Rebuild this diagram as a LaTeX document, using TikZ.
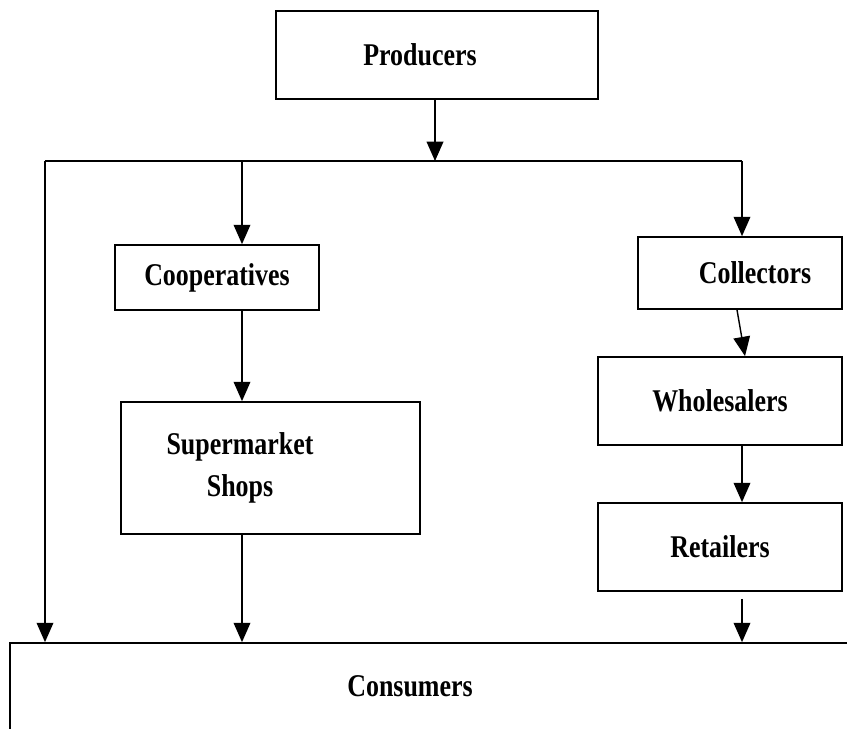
\documentclass[tikz,border=0pt]{standalone}
\usepackage{fontspec}
\setmainfont[FakeStretch=0.82]{Liberation Serif}
\usetikzlibrary{arrows.meta}

\begin{document}
\begin{tikzpicture}[x=0.02cm, y=-0.02cm, every node/.style={font=\bfseries\fontsize{18}{24}\selectfont}]
    \tikzstyle{box}=[draw, line width=1pt, inner sep=0pt, align=center]
    \tikzstyle{flow}=[-{Triangle[width=9.5pt,length=11pt]}, line width=0.8pt]

    \useasboundingbox (0,0) rectangle (847,728);

    \node[box, minimum width=6.44cm, minimum height=1.76cm, label={[xshift=-0.34cm]center:Producers}] (producers) at (437,55) {};
    \node[box, minimum width=4.08cm, minimum height=1.3cm] (cooperatives) at (217,277.5) {Cooperatives};
    \node[box, minimum width=4.08cm, minimum height=1.44cm, label={[xshift=0.3cm]center:Collectors}] (collectors) at (740,273) {};
    \node[box, minimum width=5.98cm, minimum height=2.64cm, label={[xshift=-0.61cm, align=center]center:{Supermarket\\ Shops}}] (supermarket) at (270.5,468) {};
    \node[box, minimum width=4.88cm, minimum height=1.76cm] (wholesalers) at (720,401) {Wholesalers};
    \node[box, minimum width=4.88cm, minimum height=1.76cm] (retailers) at (720,547) {Retailers};
    \node[box, minimum width=16.8cm, minimum height=1.84cm, label={[xshift=-0.4cm, yshift=0.06cm]center:Consumers}] (consumers) at (430,689) {};

    % distribution line under the producers
    \coordinate (busL) at (45,161);
    \coordinate (busC) at (242,161);
    \coordinate (busP) at (435,161);
    \coordinate (busR) at (742,161);
    \draw[line width=0.8pt] (busL) -- (busR);

    \draw[flow] (producers.south -| busP) -- (busP);
    \draw[flow] (busL) -- (busL |- consumers.north);

    % cooperative channel
    \draw[flow] (busC) -- (busC |- cooperatives.north);
    \draw[flow] (busC |- cooperatives.south) -- (busC |- supermarket.north);
    \draw[flow] (busC |- supermarket.south) -- (busC |- consumers.north);

    % traditional channel
    \draw[flow] (busR) -- (busR |- collectors.north);
    \draw[flow] ([xshift=-0.06cm]collectors.south) -- ([xshift=0.5cm]wholesalers.north);
    \draw[flow] (busR |- wholesalers.south) -- (busR |- retailers.north);
    \draw[flow] ([yshift=-0.14cm]busR |- retailers.south) -- (busR |- consumers.north);

\end{tikzpicture}
\end{document}
